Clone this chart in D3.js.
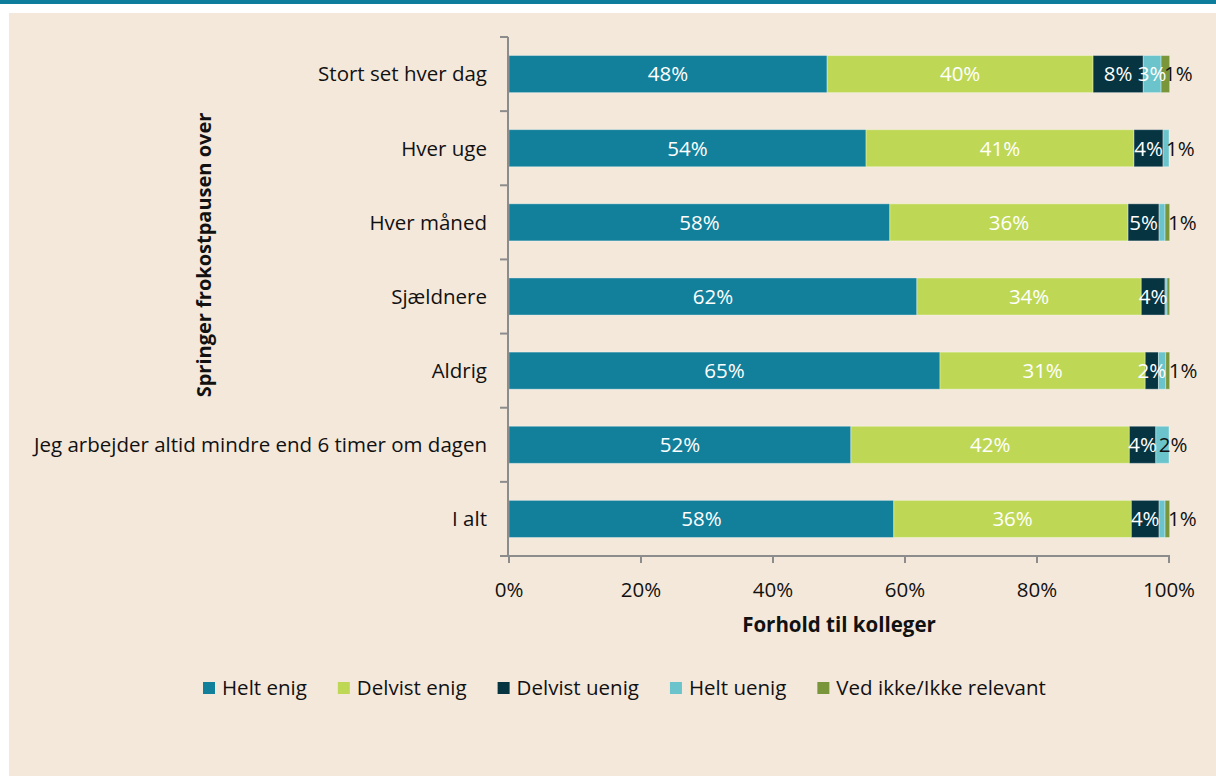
<!DOCTYPE html>
<html><head><meta charset="utf-8">
<script src="https://cdn.jsdelivr.net/npm/d3@7"></script>
<style>
html,body{margin:0;padding:0;background:#fff;}
svg{display:block;font-family:"Open Sans",sans-serif;}
</style></head>
<body><svg id="c" width="1216" height="776"></svg>
<script>
const categories = ["Stort set hver dag","Hver uge","Hver måned","Sjældnere","Aldrig","Jeg arbejder altid mindre end 6 timer om dagen","I alt"];
const seriesNames = ["Helt enig","Delvist enig","Delvist uenig","Helt uenig","Ved ikke/Ikke relevant"];
const seriesColors = ["#127f9b","#bed856","#063441","#6bc4cb","#7a963a"];
const heltEnig     = [48.2, 54.1, 57.7, 61.8, 65.3, 51.8, 58.3];
const delvistEnig  = [40.3, 40.6, 36.1, 34.0, 31.1, 42.2, 36.0];
const delvistUenig = [ 7.6,  4.4,  4.7,  3.6,  2.0,  4.0,  4.2];
const heltUenig    = [ 2.7,  0.9,  0.9,  0.3,  1.1,  2.0,  0.9];
const vedIkke      = [ 1.3,  0.0,  0.7,  0.4,  0.6,  0.0,  0.7];
const xTicks = [0,20,40,60,80,100];
const xTitle = "Forhold til kolleger";
const yTitle = "Springer frokostpausen over";

const FS = 20.5;
const svg = d3.select("#c");
const W = 1216, H = 776;
svg.append("rect").attr("x",0).attr("y",0).attr("width",W).attr("height",4).attr("fill","#0e7c9b");
svg.append("rect").attr("x",9).attr("y",13).attr("width",W-9).attr("height",H-13).attr("fill","#f4e8db");

const allSeries = [heltEnig, delvistEnig, delvistUenig, heltUenig, vedIkke];
const rows = categories.map((c,i)=>{const o={cat:c}; seriesNames.forEach((s,j)=>o[s]=allSeries[j][i]); return o;});
const stacked = d3.stack().keys(seriesNames)(rows);

const x = d3.scaleLinear().domain([0,100]).range([509,1169]);
const y = d3.scaleBand().domain(categories).range([37,556]).paddingInner(0.5).paddingOuter(0.25);

const g = svg.append("g");
stacked.forEach((layer,j)=>{
  g.selectAll(null).data(layer).enter().append("rect")
    .attr("x",d=>x(d[0])).attr("width",d=>Math.max(0,x(d[1])-x(d[0])))
    .attr("y",d=>y(d.data.cat)).attr("height",y.bandwidth())
    .attr("fill",seriesColors[j])
    .attr("stroke","rgba(255,255,255,0.35)").attr("stroke-width",1);
});

const fmt = v=>Math.round(v)+"%";
categories.forEach((c,i)=>{
  const cy = y(c)+y.bandwidth()/2;
  let lastTail=-1;
  [3,4].forEach(j=>{ if(Math.round(allSeries[j][i])>=1) lastTail=j; });
  stacked.forEach((layer,j)=>{
    const d = layer[i]; const v = d[1]-d[0];
    if(Math.round(v)<1) return;
    if(j<=2 || (j===3 && v>=2.5)){
      svg.append("text").attr("x",(x(d[0])+x(d[1]))/2).attr("y",cy).attr("dy","0.36em")
        .attr("text-anchor","middle").attr("fill","#fff").attr("font-size",FS).text(fmt(v));
    } else if(j===lastTail){
      svg.append("text").attr("x",x(d[0])+3).attr("y",cy).attr("dy","0.36em")
        .attr("text-anchor","start").attr("fill","#111").attr("font-size",FS).text(fmt(v));
    }
  });
});

const axisColor="#8c8c8c";
svg.append("line").attr("x1",508).attr("x2",508).attr("y1",37).attr("y2",557).attr("stroke",axisColor).attr("stroke-width",2);
const bounds = d3.range(categories.length+1).map(k=>37+k*(556-37)/categories.length);
bounds.forEach(b=>svg.append("line").attr("x1",500).attr("x2",508).attr("y1",b).attr("y2",b).attr("stroke",axisColor).attr("stroke-width",2));
svg.append("line").attr("x1",x(0)-1).attr("x2",x(100)+1).attr("y1",556).attr("y2",556).attr("stroke",axisColor).attr("stroke-width",2);
xTicks.forEach(t=>{
  svg.append("line").attr("x1",x(t)).attr("x2",x(t)).attr("y1",556).attr("y2",563).attr("stroke",axisColor).attr("stroke-width",2);
  svg.append("text").attr("x",x(t)).attr("y",590).attr("dy","0.36em").attr("text-anchor","middle")
    .attr("font-size",FS).attr("fill","#111").text(t+"%");
});
categories.forEach(c=>{
  svg.append("text").attr("x",487).attr("y",y(c)+y.bandwidth()/2).attr("dy","0.36em").attr("text-anchor","end")
    .attr("font-size",FS).attr("fill","#111").text(c);
});
svg.append("text").attr("x",(x(0)+x(100))/2).attr("y",625).attr("dy","0.36em").attr("text-anchor","middle")
  .attr("font-size",FS).attr("font-weight","bold").attr("fill","#111").text(xTitle);
svg.append("text").attr("transform","translate(204,255) rotate(-90)").attr("dy","0.36em").attr("text-anchor","middle")
  .attr("font-size",20).attr("font-weight","bold").attr("fill","#111").text(yTitle);

let lx = 203;
seriesNames.forEach((s,j)=>{
  svg.append("rect").attr("x",lx).attr("y",682).attr("width",12).attr("height",12).attr("fill",seriesColors[j]);
  const t = svg.append("text").attr("x",lx+19).attr("y",688).attr("dy","0.36em").attr("font-size",FS).attr("fill","#111").text(s);
  lx += 19 + t.node().getComputedTextLength() + 31;
});
</script></body></html>
